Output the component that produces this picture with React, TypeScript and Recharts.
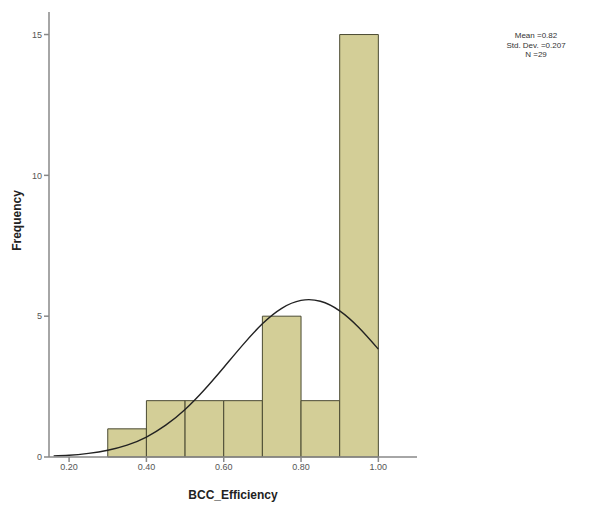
import { ComposedChart, Line, ReferenceArea, XAxis, YAxis } from "recharts";

// histogram bins (0.1 wide) and counts
const binStarts = [0.3, 0.4, 0.5, 0.6, 0.7, 0.8, 0.9];
const binCounts = [1, 2, 2, 2, 5, 2, 15];

// normal curve
const curveX = [0.16, 0.2, 0.25, 0.3, 0.35, 0.4, 0.45, 0.5, 0.55, 0.6, 0.65, 0.7, 0.75, 0.8, 0.85, 0.9, 0.95, 1.0];
const curveY = [0.04, 0.06, 0.13, 0.24, 0.42, 0.71, 1.13, 1.69, 2.39, 3.18, 3.99, 4.73, 5.28, 5.56, 5.53, 5.19, 4.59, 3.83];

const xTicks = [0.2, 0.4, 0.6, 0.8, 1.0];
const yTicks = [0, 5, 10, 15];
const statLines = ["Mean =0.82", "Std. Dev. =0.207", "N =29"];

const curve = curveX.map((x, i) => ({ x, y: curveY[i] }));

const font = "'Liberation Sans', Arial, sans-serif";
const tickStyle = { fill: "#555", fontSize: 9, fontFamily: font };
const titleStyle = { fontFamily: font, fontSize: 12, fontWeight: "bold", fill: "#222" };

function YTitle({ viewBox }: any) {
  const x = 17;
  const y = viewBox.y + viewBox.height / 2 - 14;
  return (
    <text
      x={x}
      y={y}
      transform={`rotate(-90, ${x}, ${y})`}
      textAnchor="middle"
      dominantBaseline="central"
      style={titleStyle}
    >
      Frequency
    </text>
  );
}

export default function App() {
  return (
    <div style={{ position: "relative", width: 592, height: 506 }}>
      <style>{`body{margin:0}`}</style>
      <ComposedChart
        width={592}
        height={506}
        data={curve}
        margin={{ top: 12, right: 175, bottom: 0, left: 0 }}
      >
        <XAxis
          dataKey="x"
          type="number"
          domain={[0.148, 1.1]}
          ticks={xTicks}
          tickFormatter={(v) => v.toFixed(2)}
          tick={tickStyle}
          tickSize={5}
          height={49}
          stroke="#888"
          strokeWidth={1.5}
          allowDataOverflow
          label={{
            value: "BCC_Efficiency",
            position: "insideBottom",
            offset: 7,
            style: titleStyle,
          }}
        />
        <YAxis
          type="number"
          domain={[0, 15.8]}
          ticks={yTicks}
          tick={tickStyle}
          tickSize={5}
          width={49}
          stroke="#888"
          strokeWidth={1.5}
          allowDataOverflow
          label={<YTitle />}
        />
        {binStarts.map((b, i) => (
          <ReferenceArea
            key={b}
            x1={b}
            x2={b + 0.1}
            y1={0}
            y2={binCounts[i]}
            fill="#d3ce97"
            fillOpacity={1}
            stroke="#4a4a32"
            strokeWidth={1}
            ifOverflow="visible"
          />
        ))}
        <Line
          dataKey="y"
          type="natural"
          stroke="#222"
          strokeWidth={1.4}
          dot={false}
          isAnimationActive={false}
        />
      </ComposedChart>
      <div
        style={{
          position: "absolute",
          left: 486,
          top: 31,
          width: 100,
          textAlign: "center",
          fontFamily: font,
          fontSize: 8,
          lineHeight: "9.5px",
          color: "#333",
        }}
      >
        {statLines.map((s) => (
          <div key={s}>{s}</div>
        ))}
      </div>
    </div>
  );
}
